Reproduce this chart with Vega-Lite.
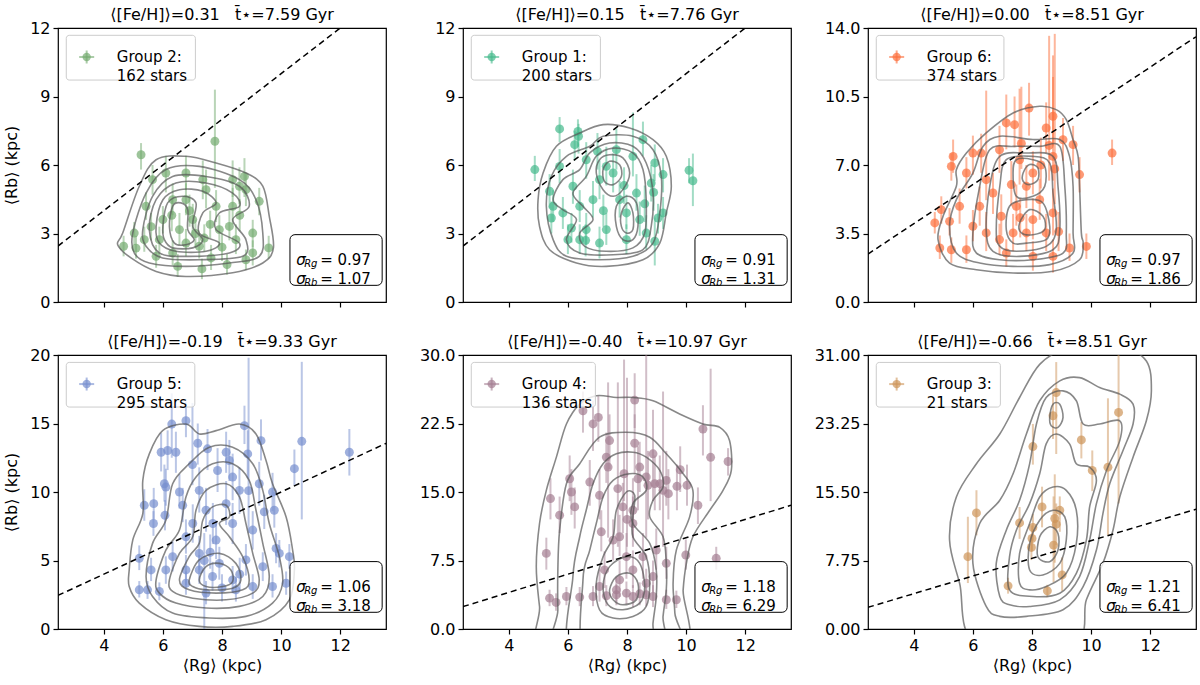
{
"$schema":"https://vega.github.io/schema/vega-lite/v6.json",
"background":"white",
"padding":{"left":3,"top":6,"right":0,"bottom":0},
"columns":3,
"spacing":{"row":53,"column":77},
"bounds":"flush",
"config":{
 "font":"DejaVu Sans",
 "view":{"stroke":"black","strokeWidth":1.2},
 "axis":{"grid":false,"domain":false,"ticks":true,"tickColor":"black","tickSize":5,"tickWidth":1.2,"labelFontSize":16,"labelColor":"black","labelFont":"DejaVu Sans","titleFont":"DejaVu Sans","titleFontSize":16,"titleFontWeight":"normal","titleColor":"black","labelPadding":3},
 "axisY":{"titlePadding":10},
 "axisX":{"titlePadding":4},
 "title":{"fontSize":16,"fontWeight":"normal","font":"DejaVu Sans","color":"black","offset":-3}
},
"datasets":{
"ref":[{"x":2.45,"y":2.45},{"x":13.55,"y":13.55}],
"one":[{}],
"p1":[
{"x":7.76,"y":7.04,"lo":5.0,"hi":9.3},{"x":5.26,"y":6.45,"lo":5.8,"hi":6.96},{"x":4.67,"y":2.44,"lo":2.0,"hi":2.9},{"x":5.09,"y":2.36,"lo":1.9,"hi":2.9},{"x":5.03,"y":3.02,"lo":2.5,"hi":3.5},{"x":5.37,"y":2.73,"lo":2.2,"hi":3.3},{"x":5.43,"y":4.19,"lo":3.6,"hi":4.8},{"x":6.5,"y":1.56,"lo":1.1,"hi":2.1},{"x":7.32,"y":1.45,"lo":1.0,"hi":1.9},{"x":8.17,"y":1.64,"lo":1.2,"hi":2.1},{"x":7.63,"y":1.93,"lo":1.4,"hi":2.5},{"x":8.81,"y":1.85,"lo":1.4,"hi":2.3},{"x":9.58,"y":2.37,"lo":1.9,"hi":2.9},{"x":9.26,"y":4.41,"lo":3.8,"hi":5.0},{"x":8.76,"y":5.5,"lo":4.6,"hi":6.3},{"x":8.81,"y":4.92,"lo":4.2,"hi":5.6},{"x":6.1,"y":5.65,"lo":4.8,"hi":6.4},{"x":5.65,"y":5.36,"lo":4.7,"hi":6.0},{"x":6.33,"y":4.48,"lo":3.8,"hi":5.2},{"x":8.25,"y":3.31,"lo":2.7,"hi":4.0},{"x":7.91,"y":3.17,"lo":2.5,"hi":3.8},{"x":9.04,"y":3.02,"lo":2.4,"hi":3.6},{"x":8.59,"y":5.07,"lo":4.3,"hi":5.9},{"x":6.56,"y":3.17,"lo":2.5,"hi":3.9},{"x":7.01,"y":3.61,"lo":2.9,"hi":4.3},{"x":6.78,"y":2.58,"lo":2.0,"hi":3.2},{"x":7.23,"y":2.44,"lo":1.9,"hi":3.0},{"x":5.77,"y":2.0,"lo":1.5,"hi":2.5},{"x":6.0,"y":3.61,"lo":3.0,"hi":4.2},{"x":7.46,"y":4.92,"lo":4.1,"hi":5.8},{"x":7.8,"y":4.19,"lo":3.5,"hi":4.9},{"x":8.36,"y":4.19,"lo":3.4,"hi":5.0},{"x":8.47,"y":2.73,"lo":2.1,"hi":3.4},{"x":5.88,"y":2.73,"lo":2.1,"hi":3.3},{"x":6.78,"y":5.65,"lo":4.9,"hi":6.4},{"x":7.35,"y":5.36,"lo":4.5,"hi":6.2},{"x":6.33,"y":2.15,"lo":1.6,"hi":2.7},{"x":9.04,"y":2.15,"lo":1.6,"hi":2.7},{"x":6.78,"y":4.48,"lo":3.8,"hi":5.2},{"x":8.36,"y":5.36,"lo":4.6,"hi":6.2},{"x":7.1,"y":3.0,"lo":2.4,"hi":3.6},{"x":6.9,"y":4.0,"lo":3.3,"hi":4.7},{"x":7.6,"y":3.4,"lo":2.8,"hi":4.0},{"x":8.0,"y":2.4,"lo":1.8,"hi":3.0},{"x":6.3,"y":3.8,"lo":3.1,"hi":4.5},{"x":5.6,"y":3.3,"lo":2.7,"hi":3.9},{"x":7.4,"y":2.8,"lo":2.2,"hi":3.4},{"x":8.6,"y":3.8,"lo":3.1,"hi":4.5}
],
"c1":[
{"c":1,"x":4.64,"y":3.02},{"c":1,"x":5.2,"y":5.07},{"c":1,"x":5.77,"y":6.23},{"c":1,"x":6.78,"y":6.38},{"c":1,"x":7.8,"y":6.09},{"c":1,"x":8.81,"y":5.65},{"c":1,"x":9.38,"y":5.07},{"c":1,"x":9.6,"y":3.75},{"c":1,"x":9.74,"y":2.37},{"c":1,"x":9.38,"y":1.71},{"c":1,"x":8.36,"y":1.28},{"c":1,"x":6.78,"y":1.12},{"c":1,"x":5.77,"y":1.34},{"c":1,"x":4.92,"y":1.93},{"c":1,"x":4.47,"y":2.51},
{"c":2,"x":4.98,"y":3.02},{"c":2,"x":5.43,"y":4.77},{"c":2,"x":6.1,"y":5.8},{"c":2,"x":7.23,"y":5.94},{"c":2,"x":8.59,"y":5.36},{"c":2,"x":9.15,"y":4.48},{"c":2,"x":9.38,"y":3.02},{"c":2,"x":9.26,"y":2.0},{"c":2,"x":8.25,"y":1.71},{"c":2,"x":6.78,"y":1.56},{"c":2,"x":5.54,"y":1.71},{"c":2,"x":5.03,"y":2.15},
{"c":3,"x":5.32,"y":3.17},{"c":3,"x":5.65,"y":4.63},{"c":3,"x":6.33,"y":5.5},{"c":3,"x":7.46,"y":5.5},{"c":3,"x":8.59,"y":5.07},{"c":3,"x":8.92,"y":4.19},{"c":3,"x":8.36,"y":3.61},{"c":3,"x":8.81,"y":2.73},{"c":3,"x":8.7,"y":2.0},{"c":3,"x":7.23,"y":1.85},{"c":3,"x":5.99,"y":1.93},{"c":3,"x":5.43,"y":2.44},
{"c":4,"x":5.54,"y":3.17},{"c":4,"x":5.77,"y":4.48},{"c":4,"x":6.44,"y":5.21},{"c":4,"x":7.46,"y":5.21},{"c":4,"x":8.36,"y":4.77},{"c":4,"x":8.59,"y":4.19},{"c":4,"x":7.91,"y":3.9},{"c":4,"x":7.8,"y":3.17},{"c":4,"x":8.59,"y":2.58},{"c":4,"x":8.25,"y":2.15},{"c":4,"x":6.89,"y":2.0},{"c":4,"x":5.88,"y":2.15},
{"c":5,"x":5.77,"y":3.31},{"c":5,"x":6.0,"y":4.48},{"c":5,"x":6.56,"y":4.92},{"c":5,"x":7.35,"y":4.85},{"c":5,"x":7.8,"y":4.34},{"c":5,"x":7.35,"y":3.9},{"c":5,"x":7.23,"y":3.02},{"c":5,"x":7.91,"y":2.58},{"c":5,"x":7.46,"y":2.22},{"c":5,"x":6.44,"y":2.22},{"c":5,"x":5.88,"y":2.58},
{"c":6,"x":6.0,"y":3.31},{"c":6,"x":6.16,"y":4.34},{"c":6,"x":6.67,"y":4.63},{"c":6,"x":7.12,"y":4.34},{"c":6,"x":7.01,"y":3.31},{"c":6,"x":7.35,"y":2.73},{"c":6,"x":7.01,"y":2.37},{"c":6,"x":6.33,"y":2.37},{"c":6,"x":6.05,"y":2.73},
{"c":7,"x":6.22,"y":3.31},{"c":7,"x":6.33,"y":4.19},{"c":7,"x":6.61,"y":4.34},{"c":7,"x":6.84,"y":4.04},{"c":7,"x":6.84,"y":3.17},{"c":7,"x":7.06,"y":2.73},{"c":7,"x":6.78,"y":2.51},{"c":7,"x":6.39,"y":2.58}
],
"p2":[
{"x":4.88,"y":5.8,"lo":5.3,"hi":6.4},{"x":5.72,"y":7.58,"lo":7.0,"hi":8.1},{"x":6.34,"y":7.47,"lo":6.8,"hi":8.0},{"x":6.36,"y":7.26,"lo":6.5,"hi":7.8},{"x":6.23,"y":6.89,"lo":6.2,"hi":7.5},{"x":8.54,"y":7.11,"lo":6.4,"hi":7.9},{"x":8.94,"y":6.09,"lo":5.3,"hi":6.9},{"x":9.22,"y":5.58,"lo":4.8,"hi":6.3},{"x":8.82,"y":5.21,"lo":4.4,"hi":6.0},{"x":10.1,"y":5.77,"lo":5.2,"hi":6.3},{"x":10.23,"y":5.31,"lo":4.2,"hi":6.5},{"x":9.22,"y":3.9,"lo":3.2,"hi":4.6},{"x":9.05,"y":3.68,"lo":3.0,"hi":4.3},{"x":8.94,"y":2.66,"lo":1.6,"hi":3.7},{"x":8.65,"y":3.02,"lo":2.3,"hi":3.8},{"x":5.44,"y":3.68,"lo":3.0,"hi":4.4},{"x":5.38,"y":4.85,"lo":4.1,"hi":5.6},{"x":5.83,"y":3.9,"lo":3.2,"hi":4.6},{"x":6.12,"y":3.24,"lo":2.6,"hi":3.9},{"x":6.0,"y":2.73,"lo":2.1,"hi":3.4},{"x":6.4,"y":2.73,"lo":2.1,"hi":3.4},{"x":7.07,"y":2.58,"lo":1.9,"hi":3.3},{"x":7.98,"y":2.73,"lo":2.1,"hi":3.4},{"x":7.98,"y":3.9,"lo":3.2,"hi":4.7},{"x":7.53,"y":5.65,"lo":4.8,"hi":6.5},{"x":7.3,"y":5.94,"lo":5.1,"hi":6.8},{"x":7.07,"y":5.36,"lo":4.5,"hi":6.2},{"x":6.62,"y":6.23,"lo":5.4,"hi":7.0},{"x":6.85,"y":4.48,"lo":3.7,"hi":5.3},{"x":6.17,"y":5.07,"lo":4.3,"hi":5.8},{"x":5.72,"y":5.94,"lo":5.2,"hi":6.7},{"x":7.64,"y":6.67,"lo":5.8,"hi":7.6},{"x":8.2,"y":6.38,"lo":5.5,"hi":8.3},{"x":8.32,"y":4.77,"lo":4.0,"hi":5.6},{"x":7.75,"y":4.48,"lo":3.7,"hi":5.3},{"x":6.4,"y":4.19,"lo":3.5,"hi":4.9},{"x":7.3,"y":3.17,"lo":2.5,"hi":3.9},{"x":8.43,"y":3.61,"lo":2.9,"hi":4.4},{"x":6.62,"y":3.17,"lo":2.5,"hi":3.9},{"x":5.5,"y":4.19,"lo":3.5,"hi":4.9},{"x":7.2,"y":4.0,"lo":3.3,"hi":4.7},{"x":7.9,"y":5.1,"lo":4.3,"hi":5.9},{"x":6.6,"y":2.7,"lo":2.0,"hi":3.4},{"x":8.6,"y":4.3,"lo":3.5,"hi":5.1},{"x":7.0,"y":6.6,"lo":5.8,"hi":7.4},{"x":8.9,"y":4.8,"lo":4.0,"hi":5.6}
],
"c2":[
{"c":1,"x":4.99,"y":4.48},{"c":1,"x":5.16,"y":5.65},{"c":1,"x":5.61,"y":6.82},{"c":1,"x":6.4,"y":7.4},{"c":1,"x":7.19,"y":7.77},{"c":1,"x":8.09,"y":7.62},{"c":1,"x":8.88,"y":7.11},{"c":1,"x":9.33,"y":6.38},{"c":1,"x":9.5,"y":5.07},{"c":1,"x":9.33,"y":3.9},{"c":1,"x":9.11,"y":2.58},{"c":1,"x":8.54,"y":1.85},{"c":1,"x":7.3,"y":1.56},{"c":1,"x":6.29,"y":1.71},{"c":1,"x":5.38,"y":2.29},{"c":1,"x":5.04,"y":3.31},
{"c":2,"x":5.27,"y":4.19},{"c":2,"x":5.44,"y":5.5},{"c":2,"x":5.95,"y":6.38},{"c":2,"x":6.74,"y":6.82},{"c":2,"x":7.19,"y":7.26},{"c":2,"x":8.2,"y":7.26},{"c":2,"x":8.88,"y":6.67},{"c":2,"x":9.16,"y":5.5},{"c":2,"x":9.11,"y":3.9},{"c":2,"x":8.88,"y":2.58},{"c":2,"x":8.2,"y":2.0},{"c":2,"x":7.07,"y":1.85},{"c":2,"x":5.95,"y":2.0},{"c":2,"x":5.5,"y":2.73},
{"c":3,"x":5.5,"y":4.48},{"c":3,"x":5.83,"y":5.36},{"c":3,"x":6.4,"y":5.8},{"c":3,"x":6.74,"y":6.53},{"c":3,"x":7.41,"y":6.96},{"c":3,"x":8.2,"y":6.82},{"c":3,"x":8.65,"y":6.09},{"c":3,"x":8.88,"y":4.77},{"c":3,"x":8.82,"y":3.31},{"c":3,"x":8.54,"y":2.29},{"c":3,"x":7.53,"y":2.07},{"c":3,"x":6.4,"y":2.15},{"c":3,"x":5.95,"y":2.73},{"c":3,"x":6.29,"y":3.61},{"c":3,"x":5.83,"y":4.04},
{"c":4,"x":6.17,"y":4.77},{"c":4,"x":6.62,"y":5.5},{"c":4,"x":6.96,"y":6.38},{"c":4,"x":7.53,"y":6.74},{"c":4,"x":8.2,"y":6.53},{"c":4,"x":8.54,"y":5.8},{"c":4,"x":8.65,"y":4.48},{"c":4,"x":8.6,"y":3.02},{"c":4,"x":8.2,"y":2.37},{"c":4,"x":7.3,"y":2.22},{"c":4,"x":6.57,"y":2.44},{"c":4,"x":6.4,"y":3.02},{"c":4,"x":6.85,"y":3.61},{"c":4,"x":6.51,"y":4.19},
{"c":5,"x":6.96,"y":5.65},{"c":5,"x":7.07,"y":6.23},{"c":5,"x":7.41,"y":6.45},{"c":5,"x":7.86,"y":6.31},{"c":5,"x":8.09,"y":5.65},{"c":5,"x":7.86,"y":4.92},{"c":5,"x":7.53,"y":4.63},{"c":5,"x":7.19,"y":4.92},
{"c":6,"x":7.64,"y":4.19},{"c":6,"x":7.98,"y":4.63},{"c":6,"x":8.32,"y":4.34},{"c":6,"x":8.37,"y":3.31},{"c":6,"x":8.2,"y":2.73},{"c":6,"x":7.86,"y":2.73},{"c":6,"x":7.64,"y":3.31},
{"c":7,"x":7.19,"y":5.8},{"c":7,"x":7.41,"y":6.16},{"c":7,"x":7.75,"y":6.01},{"c":7,"x":7.81,"y":5.5},{"c":7,"x":7.53,"y":5.14},{"c":7,"x":7.24,"y":5.28},
{"c":8,"x":7.81,"y":3.9},{"c":8,"x":8.03,"y":4.34},{"c":8,"x":8.2,"y":3.9},{"c":8,"x":8.2,"y":3.17},{"c":8,"x":7.98,"y":3.02},{"c":8,"x":7.81,"y":3.31}
],
"p3":[
{"x":10.71,"y":7.61,"lo":7.0,"hi":8.3},{"x":7.9,"y":9.91,"lo":8.5,"hi":11.2},{"x":8.71,"y":9.49,"lo":8.0,"hi":11.5},{"x":8.48,"y":8.89,"lo":7.6,"hi":10.2},{"x":7.13,"y":9.15,"lo":7.8,"hi":10.6},{"x":7.41,"y":9.06,"lo":7.9,"hi":10.5},{"x":5.33,"y":7.44,"lo":6.6,"hi":8.3},{"x":5.27,"y":6.93,"lo":6.2,"hi":7.6},{"x":5.78,"y":6.59,"lo":5.8,"hi":7.4},{"x":6.0,"y":7.61,"lo":6.5,"hi":8.5},{"x":6.28,"y":7.61,"lo":6.6,"hi":8.6},{"x":4.71,"y":4.04,"lo":3.5,"hi":4.6},{"x":4.93,"y":4.72,"lo":4.0,"hi":5.4},{"x":5.21,"y":4.12,"lo":3.4,"hi":4.8},{"x":4.88,"y":2.76,"lo":2.2,"hi":3.4},{"x":5.27,"y":2.67,"lo":2.0,"hi":3.3},{"x":5.78,"y":2.67,"lo":2.0,"hi":3.4},{"x":6.45,"y":3.53,"lo":2.6,"hi":4.6},{"x":6.96,"y":4.38,"lo":3.4,"hi":5.5},{"x":7.36,"y":3.53,"lo":2.6,"hi":4.5},{"x":8.03,"y":4.21,"lo":3.2,"hi":5.3},{"x":8.71,"y":4.55,"lo":3.4,"hi":5.8},{"x":9.27,"y":2.76,"lo":2.1,"hi":3.5},{"x":9.84,"y":2.84,"lo":2.2,"hi":3.5},{"x":9.61,"y":6.51,"lo":5.6,"hi":7.4},{"x":9.39,"y":8.04,"lo":7.0,"hi":9.0},{"x":9.05,"y":8.29,"lo":7.2,"hi":9.4},{"x":8.03,"y":6.59,"lo":5.5,"hi":7.7},{"x":7.81,"y":5.91,"lo":4.8,"hi":7.0},{"x":6.68,"y":5.57,"lo":4.5,"hi":6.6},{"x":6.23,"y":4.89,"lo":3.9,"hi":5.9},{"x":7.13,"y":2.5,"lo":1.8,"hi":3.2},{"x":8.03,"y":2.33,"lo":1.6,"hi":3.1},{"x":8.71,"y":2.33,"lo":1.5,"hi":3.2},{"x":7.47,"y":4.89,"lo":3.9,"hi":6.0},{"x":8.26,"y":5.23,"lo":4.2,"hi":6.3},{"x":7.58,"y":7.27,"lo":6.0,"hi":10.9},{"x":6.9,"y":7.78,"lo":6.6,"hi":9.0},{"x":8.71,"y":7.44,"lo":6.2,"hi":12.6},{"x":6.45,"y":6.25,"lo":5.2,"hi":10.8},{"x":5.55,"y":4.89,"lo":4.0,"hi":5.8},{"x":6.0,"y":3.87,"lo":3.1,"hi":4.7},{"x":6.9,"y":3.19,"lo":2.4,"hi":4.0},{"x":7.81,"y":3.53,"lo":2.6,"hi":4.5},{"x":8.48,"y":3.53,"lo":2.6,"hi":4.5},{"x":8.58,"y":8.0,"lo":6.2,"hi":13.6},{"x":8.77,"y":6.8,"lo":5.0,"hi":13.7},{"x":7.64,"y":8.1,"lo":6.8,"hi":11.0},{"x":7.3,"y":6.0,"lo":4.9,"hi":7.2},{"x":8.3,"y":7.0,"lo":5.8,"hi":8.4},{"x":7.6,"y":4.3,"lo":3.3,"hi":5.3},{"x":8.9,"y":3.6,"lo":2.6,"hi":4.6}
],
"c3":[
{"c":1,"x":4.82,"y":3.19},{"c":1,"x":4.99,"y":4.38},{"c":1,"x":5.44,"y":5.91},{"c":1,"x":5.44,"y":6.76},{"c":1,"x":5.78,"y":7.61},{"c":1,"x":6.45,"y":8.64},{"c":1,"x":7.36,"y":9.66},{"c":1,"x":8.26,"y":10.0},{"c":1,"x":8.82,"y":9.83},{"c":1,"x":9.16,"y":9.32},{"c":1,"x":9.39,"y":8.29},{"c":1,"x":9.56,"y":7.44},{"c":1,"x":9.61,"y":5.91},{"c":1,"x":9.67,"y":3.53},{"c":1,"x":9.73,"y":3.01},{"c":1,"x":9.61,"y":2.16},{"c":1,"x":8.71,"y":1.57},{"c":1,"x":7.36,"y":1.48},{"c":1,"x":6.12,"y":1.65},{"c":1,"x":5.21,"y":1.99},
{"c":2,"x":5.21,"y":3.87},{"c":2,"x":5.44,"y":5.23},{"c":2,"x":6.0,"y":6.59},{"c":2,"x":6.34,"y":7.95},{"c":2,"x":6.91,"y":8.47},{"c":2,"x":8.03,"y":8.3},{"c":2,"x":8.94,"y":8.3},{"c":2,"x":9.27,"y":7.44},{"c":2,"x":9.39,"y":5.91},{"c":2,"x":9.39,"y":3.53},{"c":2,"x":9.39,"y":2.5},{"c":2,"x":8.6,"y":1.91},{"c":2,"x":7.36,"y":1.82},{"c":2,"x":6.23,"y":1.99},{"c":2,"x":5.44,"y":2.5},
{"c":3,"x":6.0,"y":3.53},{"c":3,"x":6.23,"y":5.91},{"c":3,"x":6.57,"y":7.78},{"c":3,"x":7.36,"y":7.95},{"c":3,"x":8.26,"y":7.95},{"c":3,"x":8.94,"y":7.95},{"c":3,"x":9.11,"y":5.91},{"c":3,"x":9.16,"y":3.53},{"c":3,"x":9.05,"y":2.5},{"c":3,"x":8.03,"y":2.16},{"c":3,"x":6.91,"y":2.16},{"c":3,"x":6.12,"y":2.5},
{"c":4,"x":6.45,"y":3.7},{"c":4,"x":6.57,"y":5.91},{"c":4,"x":6.91,"y":7.44},{"c":4,"x":7.81,"y":7.61},{"c":4,"x":8.71,"y":7.44},{"c":4,"x":8.88,"y":5.91},{"c":4,"x":8.94,"y":3.7},{"c":4,"x":8.71,"y":2.67},{"c":4,"x":7.58,"y":2.33},{"c":4,"x":6.68,"y":2.59},
{"c":5,"x":6.79,"y":3.7},{"c":5,"x":6.91,"y":5.91},{"c":5,"x":7.13,"y":7.27},{"c":5,"x":8.03,"y":7.44},{"c":5,"x":8.6,"y":7.1},{"c":5,"x":8.71,"y":5.57},{"c":5,"x":8.82,"y":3.7},{"c":5,"x":8.48,"y":2.84},{"c":5,"x":7.47,"y":2.59},{"c":5,"x":6.91,"y":2.84},
{"c":6,"x":7.36,"y":6.59},{"c":6,"x":7.47,"y":7.27},{"c":6,"x":8.03,"y":7.27},{"c":6,"x":8.43,"y":6.93},{"c":6,"x":8.43,"y":5.91},{"c":6,"x":8.03,"y":5.4},{"c":6,"x":7.47,"y":5.4},
{"c":7,"x":7.13,"y":3.7},{"c":7,"x":7.24,"y":4.89},{"c":7,"x":7.81,"y":5.23},{"c":7,"x":8.37,"y":5.06},{"c":7,"x":8.6,"y":3.87},{"c":7,"x":8.48,"y":3.19},{"c":7,"x":7.81,"y":3.01},{"c":7,"x":7.36,"y":3.01},
{"c":8,"x":7.58,"y":4.04},{"c":8,"x":7.92,"y":4.72},{"c":8,"x":8.37,"y":4.38},{"c":8,"x":8.43,"y":3.7},{"c":8,"x":8.03,"y":3.44},{"c":8,"x":7.64,"y":3.53},
{"c":9,"x":7.7,"y":6.59},{"c":9,"x":7.92,"y":7.02},{"c":9,"x":8.2,"y":6.85},{"c":9,"x":8.2,"y":6.25},{"c":9,"x":7.92,"y":6.0},{"c":9,"x":7.7,"y":6.17}
],
"p4":[
{"x":12.31,"y":12.9,"lo":11.2,"hi":14.6},{"x":10.7,"y":13.7,"lo":8.0,"hi":19.5},{"x":10.45,"y":11.7,"lo":10.5,"hi":13.1},{"x":8.76,"y":14.84,"lo":13.5,"hi":16.3},{"x":9.32,"y":13.75,"lo":12.3,"hi":15.3},{"x":6.78,"y":15.2,"lo":14.0,"hi":16.6},{"x":6.3,"y":14.96,"lo":12.5,"hi":17.2},{"x":7.18,"y":13.56,"lo":12.0,"hi":15.0},{"x":7.51,"y":13.15,"lo":11.6,"hi":14.6},{"x":5.94,"y":12.9,"lo":11.5,"hi":14.3},{"x":6.16,"y":13.03,"lo":11.6,"hi":14.5},{"x":6.44,"y":12.9,"lo":11.4,"hi":14.4},{"x":6.05,"y":10.6,"lo":9.3,"hi":12.0},{"x":6.1,"y":10.36,"lo":9.0,"hi":11.7},{"x":5.37,"y":9.03,"lo":7.9,"hi":10.2},{"x":5.69,"y":9.15,"lo":8.0,"hi":10.3},{"x":6.07,"y":8.3,"lo":7.2,"hi":9.4},{"x":5.68,"y":7.7,"lo":6.8,"hi":8.6},{"x":6.56,"y":10.0,"lo":8.8,"hi":11.3},{"x":6.67,"y":9.03,"lo":7.8,"hi":10.3},{"x":7.85,"y":11.57,"lo":10.0,"hi":13.2},{"x":8.14,"y":12.9,"lo":11.4,"hi":14.4},{"x":8.25,"y":12.3,"lo":10.8,"hi":13.8},{"x":8.87,"y":12.78,"lo":11.0,"hi":14.5},{"x":9.71,"y":10.0,"lo":8.6,"hi":11.4},{"x":9.77,"y":8.67,"lo":7.4,"hi":10.0},{"x":9.43,"y":8.55,"lo":7.3,"hi":9.8},{"x":9.83,"y":5.88,"lo":4.8,"hi":7.0},{"x":10.28,"y":5.28,"lo":4.4,"hi":6.2},{"x":9.94,"y":5.52,"lo":4.5,"hi":6.5},{"x":5.2,"y":5.16,"lo":4.3,"hi":6.1},{"x":5.6,"y":4.31,"lo":3.5,"hi":5.2},{"x":5.2,"y":2.86,"lo":2.3,"hi":3.5},{"x":5.48,"y":2.86,"lo":2.2,"hi":3.5},{"x":5.88,"y":2.74,"lo":2.1,"hi":3.4},{"x":6.78,"y":3.34,"lo":2.5,"hi":4.2},{"x":7.23,"y":4.31,"lo":3.3,"hi":5.4},{"x":7.68,"y":3.83,"lo":2.8,"hi":4.9},{"x":8.36,"y":3.58,"lo":2.6,"hi":4.6},{"x":9.04,"y":3.1,"lo":2.2,"hi":4.0},{"x":9.71,"y":3.1,"lo":2.3,"hi":4.0},{"x":10.17,"y":3.34,"lo":2.5,"hi":4.2},{"x":7.23,"y":5.52,"lo":4.3,"hi":6.8},{"x":7.8,"y":6.49,"lo":5.1,"hi":7.9},{"x":8.36,"y":7.7,"lo":6.2,"hi":9.2},{"x":9.04,"y":7.22,"lo":5.8,"hi":8.6},{"x":6.78,"y":6.73,"lo":5.5,"hi":8.0},{"x":7.46,"y":8.67,"lo":7.1,"hi":10.3},{"x":7.23,"y":10.12,"lo":8.5,"hi":11.8},{"x":8.59,"y":10.12,"lo":8.4,"hi":11.8},{"x":8.36,"y":11.09,"lo":9.4,"hi":12.8},{"x":9.26,"y":10.6,"lo":9.0,"hi":12.2},{"x":6.33,"y":5.28,"lo":4.2,"hi":6.4},{"x":6.1,"y":4.31,"lo":3.3,"hi":5.3},{"x":7.91,"y":4.79,"lo":3.6,"hi":6.0},{"x":8.81,"y":5.04,"lo":3.9,"hi":6.2},{"x":6.78,"y":4.31,"lo":3.2,"hi":5.4},{"x":8.47,"y":2.86,"lo":2.0,"hi":3.8},{"x":7.46,"y":2.62,"lo":1.8,"hi":3.5},{"x":9.38,"y":4.55,"lo":3.5,"hi":5.6},{"x":7.01,"y":7.7,"lo":6.3,"hi":9.1},{"x":7.69,"y":7.7,"lo":6.2,"hi":9.2},{"x":8.14,"y":9.15,"lo":7.6,"hi":10.8},{"x":8.9,"y":10.1,"lo":7.0,"hi":19.8},{"x":7.4,"y":5.0,"lo":0.0,"hi":7.0},{"x":7.0,"y":12.0,"lo":10.5,"hi":16.5},{"x":8.0,"y":3.0,"lo":2.0,"hi":4.0},{"x":8.6,"y":4.0,"lo":2.8,"hi":5.2},{"x":7.6,"y":5.6,"lo":4.4,"hi":6.9}
],
"c4":[
{"c":1,"x":4.86,"y":4.31},{"c":1,"x":4.98,"y":6.49},{"c":1,"x":5.32,"y":8.43},{"c":1,"x":5.32,"y":10.85},{"c":1,"x":5.54,"y":12.78},{"c":1,"x":5.99,"y":14.48},{"c":1,"x":6.78,"y":14.96},{"c":1,"x":7.23,"y":14.24},{"c":1,"x":7.8,"y":14.48},{"c":1,"x":8.59,"y":14.96},{"c":1,"x":9.15,"y":14.24},{"c":1,"x":9.49,"y":12.3},{"c":1,"x":9.71,"y":10.6},{"c":1,"x":10.17,"y":8.18},{"c":1,"x":10.39,"y":5.76},{"c":1,"x":10.45,"y":4.31},{"c":1,"x":10.28,"y":2.13},{"c":1,"x":9.49,"y":0.68},{"c":1,"x":8.36,"y":0.19},{"c":1,"x":7.23,"y":0.19},{"c":1,"x":6.1,"y":0.68},{"c":1,"x":5.2,"y":1.89},{"c":1,"x":4.86,"y":3.1},
{"c":2,"x":5.43,"y":3.83},{"c":2,"x":5.65,"y":6.25},{"c":2,"x":6.1,"y":7.94},{"c":2,"x":6.33,"y":10.6},{"c":2,"x":6.89,"y":12.06},{"c":2,"x":7.57,"y":13.27},{"c":2,"x":8.36,"y":13.27},{"c":2,"x":9.04,"y":12.06},{"c":2,"x":9.38,"y":10.12},{"c":2,"x":9.6,"y":7.7},{"c":2,"x":9.94,"y":5.28},{"c":2,"x":10.05,"y":3.34},{"c":2,"x":9.71,"y":1.89},{"c":2,"x":8.81,"y":0.92},{"c":2,"x":7.57,"y":0.8},{"c":2,"x":6.33,"y":1.16},{"c":2,"x":5.65,"y":2.37},
{"c":3,"x":5.77,"y":3.58},{"c":3,"x":6.1,"y":5.76},{"c":3,"x":6.56,"y":7.22},{"c":3,"x":6.78,"y":9.64},{"c":3,"x":7.12,"y":11.09},{"c":3,"x":7.68,"y":12.06},{"c":3,"x":8.36,"y":12.06},{"c":3,"x":8.92,"y":10.85},{"c":3,"x":9.15,"y":8.67},{"c":3,"x":9.38,"y":6.25},{"c":3,"x":9.6,"y":3.83},{"c":3,"x":9.38,"y":2.37},{"c":3,"x":8.59,"y":1.65},{"c":3,"x":7.46,"y":1.53},{"c":3,"x":6.44,"y":1.89},{"c":3,"x":5.88,"y":2.62},
{"c":4,"x":6.22,"y":3.58},{"c":4,"x":6.56,"y":5.52},{"c":4,"x":7.01,"y":6.73},{"c":4,"x":7.12,"y":8.67},{"c":4,"x":7.46,"y":10.12},{"c":4,"x":8.14,"y":10.6},{"c":4,"x":8.59,"y":9.64},{"c":4,"x":8.81,"y":7.7},{"c":4,"x":9.04,"y":5.52},{"c":4,"x":9.26,"y":3.58},{"c":4,"x":9.04,"y":2.62},{"c":4,"x":8.14,"y":2.13},{"c":4,"x":7.01,"y":2.25},{"c":4,"x":6.33,"y":2.74},
{"c":5,"x":6.56,"y":3.58},{"c":5,"x":6.89,"y":5.28},{"c":5,"x":7.23,"y":6.25},{"c":5,"x":7.35,"y":7.94},{"c":5,"x":7.68,"y":8.91},{"c":5,"x":8.14,"y":9.03},{"c":5,"x":8.25,"y":8.18},{"c":5,"x":7.91,"y":7.7},{"c":5,"x":8.25,"y":6.73},{"c":5,"x":8.7,"y":5.28},{"c":5,"x":8.92,"y":3.58},{"c":5,"x":8.7,"y":2.86},{"c":5,"x":7.8,"y":2.62},{"c":5,"x":6.89,"y":2.86},
{"c":6,"x":6.89,"y":3.58},{"c":6,"x":7.23,"y":5.04},{"c":6,"x":7.91,"y":5.52},{"c":6,"x":8.47,"y":4.79},{"c":6,"x":8.64,"y":3.58},{"c":6,"x":8.36,"y":2.98},{"c":6,"x":7.46,"y":2.86},{"c":6,"x":7.01,"y":3.1},
{"c":7,"x":7.23,"y":3.58},{"c":7,"x":7.46,"y":4.55},{"c":7,"x":7.91,"y":4.79},{"c":7,"x":8.3,"y":4.31},{"c":7,"x":8.36,"y":3.46},{"c":7,"x":8.02,"y":3.1},{"c":7,"x":7.46,"y":3.1}
],
"p5":[
{"x":11.42,"y":18.34,"lo":16.8,"hi":19.8},{"x":10.57,"y":21.9,"lo":19.0,"hi":24.5},{"x":10.83,"y":18.8,"lo":14.0,"hi":28.5},{"x":11.02,"y":7.74,"lo":6.5,"hi":9.0},{"x":9.99,"y":8.1,"lo":6.5,"hi":9.8},{"x":10.4,"y":13.55,"lo":11.5,"hi":15.5},{"x":10.03,"y":15.73,"lo":13.5,"hi":18.0},{"x":9.8,"y":17.44,"lo":15.0,"hi":20.0},{"x":9.69,"y":15.62,"lo":13.0,"hi":18.0},{"x":9.33,"y":16.27,"lo":13.5,"hi":19.5},{"x":8.88,"y":19.18,"lo":14.0,"hi":24.0},{"x":8.26,"y":25.06,"lo":22.0,"hi":28.0},{"x":8.26,"y":20.34,"lo":17.0,"hi":23.5},{"x":8.43,"y":17.73,"lo":15.0,"hi":20.5},{"x":8.37,"y":16.45,"lo":13.0,"hi":20.0},{"x":8.65,"y":16.64,"lo":10.0,"hi":30.0},{"x":8.71,"y":15.73,"lo":12.0,"hi":19.5},{"x":8.94,"y":15.91,"lo":13.0,"hi":19.0},{"x":9.22,"y":15.18,"lo":9.0,"hi":26.0},{"x":9.4,"y":14.82,"lo":12.0,"hi":17.5},{"x":9.11,"y":15.91,"lo":13.0,"hi":19.0},{"x":7.41,"y":20.63,"lo":17.5,"hi":23.5},{"x":7.3,"y":18.82,"lo":16.0,"hi":21.5},{"x":7.36,"y":17.73,"lo":10.0,"hi":27.0},{"x":7.03,"y":23.17,"lo":20.5,"hi":25.5},{"x":6.51,"y":23.9,"lo":21.5,"hi":26.0},{"x":6.85,"y":22.45,"lo":19.5,"hi":25.0},{"x":6.06,"y":16.45,"lo":14.0,"hi":19.0},{"x":6.12,"y":15.0,"lo":12.5,"hi":17.5},{"x":6.23,"y":13.37,"lo":11.0,"hi":15.5},{"x":5.41,"y":14.28,"lo":12.0,"hi":16.5},{"x":5.72,"y":12.46,"lo":10.5,"hi":14.5},{"x":5.27,"y":8.28,"lo":6.5,"hi":10.0},{"x":6.74,"y":16.09,"lo":13.5,"hi":18.5},{"x":7.07,"y":14.64,"lo":12.0,"hi":17.5},{"x":7.69,"y":15.37,"lo":9.0,"hi":27.0},{"x":7.86,"y":13.37,"lo":10.5,"hi":16.0},{"x":8.2,"y":13.0,"lo":10.0,"hi":16.5},{"x":7.13,"y":10.64,"lo":8.5,"hi":13.0},{"x":7.53,"y":9.73,"lo":7.5,"hi":12.0},{"x":7.75,"y":10.1,"lo":8.0,"hi":12.5},{"x":8.2,"y":11.55,"lo":9.0,"hi":14.5},{"x":7.24,"y":6.47,"lo":4.5,"hi":8.5},{"x":7.75,"y":5.38,"lo":3.5,"hi":7.5},{"x":7.07,"y":4.65,"lo":3.0,"hi":6.5},{"x":5.38,"y":3.38,"lo":2.5,"hi":4.3},{"x":5.6,"y":2.91,"lo":2.0,"hi":3.9},{"x":5.95,"y":3.56,"lo":2.6,"hi":4.6},{"x":6.4,"y":3.49,"lo":2.5,"hi":4.6},{"x":6.85,"y":3.56,"lo":2.5,"hi":4.7},{"x":7.3,"y":3.63,"lo":2.5,"hi":4.8},{"x":7.64,"y":3.74,"lo":2.6,"hi":4.9},{"x":7.98,"y":3.92,"lo":2.7,"hi":5.2},{"x":8.2,"y":3.56,"lo":2.4,"hi":4.8},{"x":8.43,"y":3.85,"lo":2.6,"hi":5.1},{"x":8.65,"y":3.74,"lo":2.5,"hi":5.0},{"x":8.88,"y":3.56,"lo":2.4,"hi":4.8},{"x":9.33,"y":3.2,"lo":2.2,"hi":4.3},{"x":9.67,"y":3.2,"lo":2.3,"hi":4.2},{"x":8.2,"y":6.47,"lo":4.5,"hi":8.6},{"x":8.54,"y":7.92,"lo":5.5,"hi":10.5},{"x":8.99,"y":8.64,"lo":6.5,"hi":11.0},{"x":7.98,"y":7.92,"lo":5.5,"hi":10.5},{"x":9.33,"y":7.19,"lo":5.5,"hi":9.0},{"x":8.88,"y":5.74,"lo":4.0,"hi":7.5},{"x":7.64,"y":4.29,"lo":3.0,"hi":5.7},{"x":8.65,"y":5.01,"lo":3.5,"hi":6.6},{"x":7.9,"y":17.0,"lo":14.0,"hi":29.5},{"x":8.0,"y":12.0,"lo":9.0,"hi":27.5}
],
"c5":[
{"c":1,"x":4.93,"y":6.83},{"c":1,"x":5.04,"y":11.55},{"c":1,"x":5.27,"y":15.18},{"c":1,"x":5.61,"y":18.82},{"c":1,"x":5.95,"y":22.45},{"c":1,"x":6.4,"y":24.63},{"c":1,"x":6.96,"y":25.54},{"c":1,"x":7.64,"y":25.35},{"c":1,"x":8.2,"y":25.35},{"c":1,"x":8.88,"y":24.99},{"c":1,"x":9.78,"y":23.54},{"c":1,"x":10.57,"y":22.45},{"c":1,"x":11.14,"y":22.08},{"c":1,"x":11.47,"y":20.63},{"c":1,"x":11.53,"y":17.36},{"c":1,"x":11.25,"y":15.18},{"c":1,"x":10.8,"y":13.0},{"c":1,"x":10.23,"y":10.1},{"c":1,"x":10.01,"y":7.19},{"c":1,"x":9.9,"y":4.29},{"c":1,"x":9.78,"y":-2.98},{"c":1,"x":5.27,"y":-2.98},{"c":1,"x":5.04,"y":2.47},
{"c":2,"x":5.66,"y":6.47},{"c":2,"x":5.72,"y":10.82},{"c":2,"x":5.95,"y":15.91},{"c":2,"x":6.4,"y":18.09},{"c":2,"x":7.07,"y":21.0},{"c":2,"x":7.98,"y":21.54},{"c":2,"x":8.77,"y":21.0},{"c":2,"x":9.33,"y":19.18},{"c":2,"x":9.9,"y":17.0},{"c":2,"x":10.23,"y":15.18},{"c":2,"x":10.12,"y":12.28},{"c":2,"x":9.67,"y":8.64},{"c":2,"x":9.56,"y":5.01},{"c":2,"x":9.62,"y":1.74},{"c":2,"x":9.67,"y":-2.98},{"c":2,"x":5.72,"y":-2.98},{"c":2,"x":5.66,"y":2.11},
{"c":3,"x":6.17,"y":5.74},{"c":3,"x":6.4,"y":10.1},{"c":3,"x":6.62,"y":13.0},{"c":3,"x":6.85,"y":15.91},{"c":3,"x":7.19,"y":18.09},{"c":3,"x":7.64,"y":19.18},{"c":3,"x":8.2,"y":19.36},{"c":3,"x":8.65,"y":18.82},{"c":3,"x":9.11,"y":17.36},{"c":3,"x":9.22,"y":15.55},{"c":3,"x":8.88,"y":14.09},{"c":3,"x":8.77,"y":12.28},{"c":3,"x":9.22,"y":10.1},{"c":3,"x":9.33,"y":7.19},{"c":3,"x":9.33,"y":4.29},{"c":3,"x":9.22,"y":1.38},{"c":3,"x":9.11,"y":-2.98},{"c":3,"x":6.17,"y":-2.98},
{"c":4,"x":6.51,"y":5.38},{"c":4,"x":6.74,"y":8.64},{"c":4,"x":6.96,"y":11.55},{"c":4,"x":7.19,"y":14.46},{"c":4,"x":7.53,"y":16.27},{"c":4,"x":8.09,"y":17.0},{"c":4,"x":8.54,"y":16.64},{"c":4,"x":8.65,"y":15.18},{"c":4,"x":8.2,"y":13.73},{"c":4,"x":8.2,"y":11.55},{"c":4,"x":8.77,"y":9.37},{"c":4,"x":8.99,"y":6.47},{"c":4,"x":8.99,"y":3.56},{"c":4,"x":8.88,"y":0.65},{"c":4,"x":8.77,"y":-2.98},{"c":4,"x":6.62,"y":-2.98},
{"c":5,"x":6.96,"y":5.01},{"c":5,"x":7.19,"y":7.92},{"c":5,"x":7.53,"y":10.1},{"c":5,"x":7.64,"y":13.0},{"c":5,"x":7.98,"y":15.0},{"c":5,"x":8.26,"y":14.64},{"c":5,"x":8.2,"y":12.28},{"c":5,"x":8.2,"y":10.1},{"c":5,"x":8.65,"y":7.92},{"c":5,"x":8.77,"y":5.01},{"c":5,"x":8.65,"y":2.47},{"c":5,"x":8.2,"y":1.38},{"c":5,"x":7.53,"y":1.2},{"c":5,"x":7.07,"y":2.11},
{"c":6,"x":7.19,"y":4.65},{"c":6,"x":7.41,"y":6.83},{"c":6,"x":7.98,"y":7.92},{"c":6,"x":8.43,"y":7.19},{"c":6,"x":8.6,"y":4.65},{"c":6,"x":8.43,"y":2.83},{"c":6,"x":7.86,"y":2.11},{"c":6,"x":7.36,"y":2.65},
{"c":7,"x":7.41,"y":4.29},{"c":7,"x":7.64,"y":5.74},{"c":7,"x":8.09,"y":6.1},{"c":7,"x":8.37,"y":5.01},{"c":7,"x":8.32,"y":3.2},{"c":7,"x":7.86,"y":2.65},{"c":7,"x":7.53,"y":3.2}
],
"p6":[
{"x":5.83,"y":8.18,"lo":5.2,"hi":12.7},{"x":6.12,"y":13.13,"lo":10.6,"hi":15.7},{"x":7.19,"y":4.88,"lo":4.0,"hi":5.8},{"x":7.58,"y":12.0,"lo":10.2,"hi":13.8},{"x":8.03,"y":20.64,"lo":18.6,"hi":23.2},{"x":8.03,"y":11.48,"lo":10.0,"hi":13.0},{"x":8.0,"y":10.24,"lo":8.8,"hi":11.7},{"x":7.98,"y":9.23,"lo":7.8,"hi":10.6},{"x":8.34,"y":13.81,"lo":11.5,"hi":16.1},{"x":8.71,"y":24.13,"lo":21.5,"hi":26.5},{"x":8.82,"y":26.75,"lo":19.8,"hi":30.2},{"x":8.77,"y":12.5,"lo":7.5,"hi":17.5},{"x":8.82,"y":11.86,"lo":9.5,"hi":14.2},{"x":8.94,"y":13.43,"lo":11.0,"hi":15.0},{"x":8.73,"y":9.49,"lo":5.3,"hi":15.0},{"x":8.52,"y":4.32,"lo":3.6,"hi":5.0},{"x":9.02,"y":6.12,"lo":4.3,"hi":8.1},{"x":9.67,"y":21.39,"lo":19.3,"hi":23.4},{"x":10.04,"y":17.94,"lo":15.6,"hi":20.2},{"x":10.57,"y":18.31,"lo":10.6,"hi":26.1},{"x":10.93,"y":24.5,"lo":14.2,"hi":31.3}
],
"c6":[
{"c":1,"x":6.12,"y":-1.58},{"c":1,"x":5.55,"y":5.18},{"c":1,"x":5.21,"y":10.06},{"c":1,"x":5.44,"y":14.93},{"c":1,"x":6.12,"y":18.69},{"c":1,"x":6.91,"y":22.06},{"c":1,"x":7.58,"y":26.19},{"c":1,"x":8.26,"y":29.94},{"c":1,"x":9.16,"y":31.82},{"c":1,"x":10.06,"y":32.2},{"c":1,"x":10.97,"y":32.2},{"c":1,"x":11.87,"y":30.32},{"c":1,"x":12.04,"y":26.94},{"c":1,"x":11.87,"y":23.56},{"c":1,"x":11.42,"y":19.44},{"c":1,"x":10.97,"y":14.93},{"c":1,"x":10.74,"y":11.18},{"c":1,"x":10.4,"y":7.43},{"c":1,"x":9.84,"y":3.3},{"c":1,"x":9.39,"y":-1.58},
{"c":2,"x":6.45,"y":2.55},{"c":2,"x":6.0,"y":7.43},{"c":2,"x":6.23,"y":11.93},{"c":2,"x":6.91,"y":14.56},{"c":2,"x":7.36,"y":17.56},{"c":2,"x":7.81,"y":22.06},{"c":2,"x":8.26,"y":25.82},{"c":2,"x":8.94,"y":28.07},{"c":2,"x":9.61,"y":28.44},{"c":2,"x":10.29,"y":27.32},{"c":2,"x":10.97,"y":26.57},{"c":2,"x":11.42,"y":25.44},{"c":2,"x":11.42,"y":23.19},{"c":2,"x":11.08,"y":20.19},{"c":2,"x":10.63,"y":16.44},{"c":2,"x":10.4,"y":13.06},{"c":2,"x":10.18,"y":8.93},{"c":2,"x":9.73,"y":4.8},{"c":2,"x":9.05,"y":2.18},{"c":2,"x":7.81,"y":1.43},{"c":2,"x":6.91,"y":1.43},
{"c":3,"x":6.91,"y":3.68},{"c":3,"x":6.79,"y":7.43},{"c":3,"x":7.13,"y":11.18},{"c":3,"x":7.58,"y":14.56},{"c":3,"x":7.92,"y":18.69},{"c":3,"x":8.15,"y":23.19},{"c":3,"x":8.48,"y":26.19},{"c":3,"x":9.05,"y":26.94},{"c":3,"x":9.5,"y":25.82},{"c":3,"x":9.73,"y":23.19},{"c":3,"x":10.29,"y":23.19},{"c":3,"x":10.97,"y":23.56},{"c":3,"x":10.97,"y":21.31},{"c":3,"x":10.52,"y":17.94},{"c":3,"x":10.18,"y":14.18},{"c":3,"x":9.95,"y":10.06},{"c":3,"x":9.61,"y":5.93},{"c":3,"x":8.94,"y":3.3},{"c":3,"x":7.92,"y":2.55},{"c":3,"x":7.24,"y":2.74},
{"c":4,"x":7.24,"y":4.43},{"c":4,"x":7.24,"y":8.18},{"c":4,"x":7.47,"y":11.18},{"c":4,"x":7.92,"y":14.18},{"c":4,"x":8.26,"y":17.56},{"c":4,"x":8.48,"y":20.94},{"c":4,"x":8.82,"y":22.06},{"c":4,"x":9.27,"y":20.94},{"c":4,"x":9.5,"y":18.69},{"c":4,"x":9.95,"y":18.31},{"c":4,"x":10.18,"y":16.81},{"c":4,"x":9.95,"y":13.81},{"c":4,"x":9.84,"y":10.06},{"c":4,"x":9.5,"y":6.3},{"c":4,"x":8.94,"y":4.05},{"c":4,"x":8.03,"y":3.68},
{"c":5,"x":8.6,"y":23.94},{"c":5,"x":8.71,"y":25.44},{"c":5,"x":8.94,"y":25.44},{"c":5,"x":9.05,"y":23.94},{"c":5,"x":8.88,"y":22.81},{"c":5,"x":8.65,"y":23.0},
{"c":6,"x":7.58,"y":5.18},{"c":6,"x":7.58,"y":8.56},{"c":6,"x":7.92,"y":11.93},{"c":6,"x":8.26,"y":14.93},{"c":6,"x":8.71,"y":16.06},{"c":6,"x":9.16,"y":15.68},{"c":6,"x":9.5,"y":13.43},{"c":6,"x":9.5,"y":9.68},{"c":6,"x":9.16,"y":6.3},{"c":6,"x":8.48,"y":4.8},{"c":6,"x":7.92,"y":4.43},
{"c":7,"x":7.92,"y":6.68},{"c":7,"x":7.92,"y":9.68},{"c":7,"x":8.26,"y":12.31},{"c":7,"x":8.71,"y":13.43},{"c":7,"x":9.11,"y":12.68},{"c":7,"x":9.16,"y":10.06},{"c":7,"x":8.94,"y":7.43},{"c":7,"x":8.37,"y":6.12},
{"c":8,"x":8.2,"y":8.18},{"c":8,"x":8.26,"y":10.43},{"c":8,"x":8.6,"y":11.56},{"c":8,"x":8.88,"y":10.81},{"c":8,"x":8.88,"y":8.93},{"c":8,"x":8.6,"y":7.62}
]
},
"concat":[
{"width":328,"height":274,"title":"⟨[Fe/H]⟩=0.31\u00a0\u00a0\u00a0t̄⋆=7.59 Gyr","resolve":{"axis":{"x":"independent","y":"independent"}},"layer":[
 {"data":{"name":"p1"},"mark":{"type":"rule","strokeWidth":2,"opacity":0.5,"color":"#74ab6f","clip":true},"encoding":{"x":{"field":"x","type":"quantitative","scale":{"domain":[2.45,13.55],"nice":false,"zero":false},"axis":{"values":[4,6,8,10,12],"labels":false,"title":null}},"y":{"field":"lo","type":"quantitative","scale":{"domain":[0,12],"nice":false,"zero":false},"axis":{"values":[0,3,6,9,12],"title":"⟨Rb⟩ (kpc)"}},"y2":{"field":"hi"}}},
 {"data":{"name":"p1"},"mark":{"type":"circle","size":80,"opacity":0.7,"color":"#74ab6f","clip":true},"encoding":{"x":{"field":"x","type":"quantitative","axis":null},"y":{"field":"y","type":"quantitative","axis":null}}},
 {"data":{"name":"c1"},"mark":{"type":"line","interpolate":"cardinal-closed","color":"#555555","opacity":0.7,"strokeWidth":1.6,"clip":true},"encoding":{"x":{"field":"x","type":"quantitative","axis":null},"y":{"field":"y","type":"quantitative","axis":null},"detail":{"field":"c"},"order":{"value":null}}},
 {"data":{"name":"ref"},"mark":{"type":"line","color":"black","strokeDash":[6,4],"strokeWidth":1.5,"clip":true},"encoding":{"x":{"field":"x","type":"quantitative","axis":null},"y":{"field":"y","type":"quantitative","axis":null}}},
 {"data":{"name":"one"},"mark":{"type":"rect","fill":"white","fillOpacity":0.8,"stroke":"#cccccc","strokeWidth":1,"cornerRadius":3},"encoding":{"x":{"datum":2.73,"type":"quantitative","axis":null},"x2":{"datum":7.1},"y":{"datum":11.68,"type":"quantitative","axis":null},"y2":{"datum":9.72}}},
 {"data":{"name":"one"},"mark":{"type":"tick","orient":"horizontal","size":15,"thickness":2,"color":"#74ab6f","opacity":0.6},"encoding":{"x":{"datum":3.42,"type":"quantitative","axis":null},"y":{"datum":10.73,"type":"quantitative","axis":null}}},
 {"data":{"name":"one"},"mark":{"type":"tick","orient":"vertical","size":13,"thickness":2,"color":"#74ab6f","opacity":0.6},"encoding":{"x":{"datum":3.42,"type":"quantitative","axis":null},"y":{"datum":10.73,"type":"quantitative","axis":null}}},
 {"data":{"name":"one"},"mark":{"type":"circle","size":70,"opacity":0.7,"color":"#74ab6f"},"encoding":{"x":{"datum":3.42,"type":"quantitative","axis":null},"y":{"datum":10.73,"type":"quantitative","axis":null}}},
 {"data":{"name":"one"},"mark":{"type":"text","align":"left","baseline":"middle","fontSize":15,"lineHeight":19,"text":["Group 2:","162 stars"]},"encoding":{"x":{"datum":4.44,"type":"quantitative","axis":null},"y":{"datum":10.73,"type":"quantitative","axis":null}}},
 {"data":{"name":"one"},"mark":{"type":"rect","fill":"white","fillOpacity":0.8,"stroke":"black","strokeWidth":1,"cornerRadius":5},"encoding":{"x":{"datum":10.3,"type":"quantitative","axis":null},"x2":{"datum":13.42},"y":{"datum":2.95,"type":"quantitative","axis":null},"y2":{"datum":0.73}}},
 {"data":{"name":"one"},"mark":{"type":"text","align":"left","baseline":"middle","fontSize":15,"fontStyle":"italic","lineHeight":19,"text":["σ","σ"]},"encoding":{"x":{"datum":10.51,"type":"quantitative","axis":null},"y":{"datum":1.85,"type":"quantitative","axis":null}}},
 {"data":{"name":"one"},"mark":{"type":"text","align":"left","baseline":"middle","fontSize":10,"fontStyle":"italic","lineHeight":19,"dx":8,"dy":4,"text":["Rg","Rb"]},"encoding":{"x":{"datum":10.51,"type":"quantitative","axis":null},"y":{"datum":1.85,"type":"quantitative","axis":null}}},
 {"data":{"name":"one"},"mark":{"type":"text","align":"left","baseline":"middle","fontSize":15,"lineHeight":19,"dx":24,"text":["= 0.97","= 1.07"]},"encoding":{"x":{"datum":10.51,"type":"quantitative","axis":null},"y":{"datum":1.85,"type":"quantitative","axis":null}}}
]},
{"width":328,"height":274,"title":"⟨[Fe/H]⟩=0.15\u00a0\u00a0\u00a0t̄⋆=7.76 Gyr","resolve":{"axis":{"x":"independent","y":"independent"}},"layer":[
 {"data":{"name":"p2"},"mark":{"type":"rule","strokeWidth":2,"opacity":0.5,"color":"#45b98c","clip":true},"encoding":{"x":{"field":"x","type":"quantitative","scale":{"domain":[2.45,13.55],"nice":false,"zero":false},"axis":{"values":[4,6,8,10,12],"labels":false,"title":null}},"y":{"field":"lo","type":"quantitative","scale":{"domain":[0,12],"nice":false,"zero":false},"axis":{"values":[0,3,6,9,12],"title":null}},"y2":{"field":"hi"}}},
 {"data":{"name":"p2"},"mark":{"type":"circle","size":80,"opacity":0.7,"color":"#45b98c","clip":true},"encoding":{"x":{"field":"x","type":"quantitative","axis":null},"y":{"field":"y","type":"quantitative","axis":null}}},
 {"data":{"name":"c2"},"mark":{"type":"line","interpolate":"cardinal-closed","color":"#555555","opacity":0.7,"strokeWidth":1.6,"clip":true},"encoding":{"x":{"field":"x","type":"quantitative","axis":null},"y":{"field":"y","type":"quantitative","axis":null},"detail":{"field":"c"},"order":{"value":null}}},
 {"data":{"name":"ref"},"mark":{"type":"line","color":"black","strokeDash":[6,4],"strokeWidth":1.5,"clip":true},"encoding":{"x":{"field":"x","type":"quantitative","axis":null},"y":{"field":"y","type":"quantitative","axis":null}}},
 {"data":{"name":"one"},"mark":{"type":"rect","fill":"white","fillOpacity":0.8,"stroke":"#cccccc","strokeWidth":1,"cornerRadius":3},"encoding":{"x":{"datum":2.73,"type":"quantitative","axis":null},"x2":{"datum":7.1},"y":{"datum":11.68,"type":"quantitative","axis":null},"y2":{"datum":9.72}}},
 {"data":{"name":"one"},"mark":{"type":"tick","orient":"horizontal","size":15,"thickness":2,"color":"#45b98c","opacity":0.6},"encoding":{"x":{"datum":3.42,"type":"quantitative","axis":null},"y":{"datum":10.73,"type":"quantitative","axis":null}}},
 {"data":{"name":"one"},"mark":{"type":"tick","orient":"vertical","size":13,"thickness":2,"color":"#45b98c","opacity":0.6},"encoding":{"x":{"datum":3.42,"type":"quantitative","axis":null},"y":{"datum":10.73,"type":"quantitative","axis":null}}},
 {"data":{"name":"one"},"mark":{"type":"circle","size":70,"opacity":0.7,"color":"#45b98c"},"encoding":{"x":{"datum":3.42,"type":"quantitative","axis":null},"y":{"datum":10.73,"type":"quantitative","axis":null}}},
 {"data":{"name":"one"},"mark":{"type":"text","align":"left","baseline":"middle","fontSize":15,"lineHeight":19,"text":["Group 1:","200 stars"]},"encoding":{"x":{"datum":4.44,"type":"quantitative","axis":null},"y":{"datum":10.73,"type":"quantitative","axis":null}}},
 {"data":{"name":"one"},"mark":{"type":"rect","fill":"white","fillOpacity":0.8,"stroke":"black","strokeWidth":1,"cornerRadius":5},"encoding":{"x":{"datum":10.3,"type":"quantitative","axis":null},"x2":{"datum":13.42},"y":{"datum":2.95,"type":"quantitative","axis":null},"y2":{"datum":0.73}}},
 {"data":{"name":"one"},"mark":{"type":"text","align":"left","baseline":"middle","fontSize":15,"fontStyle":"italic","lineHeight":19,"text":["σ","σ"]},"encoding":{"x":{"datum":10.51,"type":"quantitative","axis":null},"y":{"datum":1.85,"type":"quantitative","axis":null}}},
 {"data":{"name":"one"},"mark":{"type":"text","align":"left","baseline":"middle","fontSize":10,"fontStyle":"italic","lineHeight":19,"dx":8,"dy":4,"text":["Rg","Rb"]},"encoding":{"x":{"datum":10.51,"type":"quantitative","axis":null},"y":{"datum":1.85,"type":"quantitative","axis":null}}},
 {"data":{"name":"one"},"mark":{"type":"text","align":"left","baseline":"middle","fontSize":15,"lineHeight":19,"dx":24,"text":["= 0.91","= 1.31"]},"encoding":{"x":{"datum":10.51,"type":"quantitative","axis":null},"y":{"datum":1.85,"type":"quantitative","axis":null}}}
]},
{"width":328,"height":274,"title":"⟨[Fe/H]⟩=0.00\u00a0\u00a0\u00a0t̄⋆=8.51 Gyr","resolve":{"axis":{"x":"independent","y":"independent"}},"layer":[
 {"data":{"name":"p3"},"mark":{"type":"rule","strokeWidth":2,"opacity":0.5,"color":"#fc6d3a","clip":true},"encoding":{"x":{"field":"x","type":"quantitative","scale":{"domain":[2.45,13.55],"nice":false,"zero":false},"axis":{"values":[4,6,8,10,12],"labels":false,"title":null}},"y":{"field":"lo","type":"quantitative","scale":{"domain":[0,14],"nice":false,"zero":false},"axis":{"values":[0,3.5,7,10.5,14],"format":".1f","title":null}},"y2":{"field":"hi"}}},
 {"data":{"name":"p3"},"mark":{"type":"circle","size":80,"opacity":0.7,"color":"#fc6d3a","clip":true},"encoding":{"x":{"field":"x","type":"quantitative","axis":null},"y":{"field":"y","type":"quantitative","axis":null}}},
 {"data":{"name":"c3"},"mark":{"type":"line","interpolate":"cardinal-closed","color":"#555555","opacity":0.7,"strokeWidth":1.6,"clip":true},"encoding":{"x":{"field":"x","type":"quantitative","axis":null},"y":{"field":"y","type":"quantitative","axis":null},"detail":{"field":"c"},"order":{"value":null}}},
 {"data":{"name":"ref"},"mark":{"type":"line","color":"black","strokeDash":[6,4],"strokeWidth":1.5,"clip":true},"encoding":{"x":{"field":"x","type":"quantitative","axis":null},"y":{"field":"y","type":"quantitative","axis":null}}},
 {"data":{"name":"one"},"mark":{"type":"rect","fill":"white","fillOpacity":0.8,"stroke":"#cccccc","strokeWidth":1,"cornerRadius":3},"encoding":{"x":{"datum":2.73,"type":"quantitative","axis":null},"x2":{"datum":7.05},"y":{"datum":13.62,"type":"quantitative","axis":null},"y2":{"datum":11.34}}},
 {"data":{"name":"one"},"mark":{"type":"tick","orient":"horizontal","size":15,"thickness":2,"color":"#fc6d3a","opacity":0.6},"encoding":{"x":{"datum":3.42,"type":"quantitative","axis":null},"y":{"datum":12.52,"type":"quantitative","axis":null}}},
 {"data":{"name":"one"},"mark":{"type":"tick","orient":"vertical","size":13,"thickness":2,"color":"#fc6d3a","opacity":0.6},"encoding":{"x":{"datum":3.42,"type":"quantitative","axis":null},"y":{"datum":12.52,"type":"quantitative","axis":null}}},
 {"data":{"name":"one"},"mark":{"type":"circle","size":70,"opacity":0.7,"color":"#fc6d3a"},"encoding":{"x":{"datum":3.42,"type":"quantitative","axis":null},"y":{"datum":12.52,"type":"quantitative","axis":null}}},
 {"data":{"name":"one"},"mark":{"type":"text","align":"left","baseline":"middle","fontSize":15,"lineHeight":19,"text":["Group 6:","374 stars"]},"encoding":{"x":{"datum":4.44,"type":"quantitative","axis":null},"y":{"datum":12.52,"type":"quantitative","axis":null}}},
 {"data":{"name":"one"},"mark":{"type":"rect","fill":"white","fillOpacity":0.8,"stroke":"black","strokeWidth":1,"cornerRadius":5},"encoding":{"x":{"datum":10.3,"type":"quantitative","axis":null},"x2":{"datum":13.42},"y":{"datum":3.44,"type":"quantitative","axis":null},"y2":{"datum":0.85}}},
 {"data":{"name":"one"},"mark":{"type":"text","align":"left","baseline":"middle","fontSize":15,"fontStyle":"italic","lineHeight":19,"text":["σ","σ"]},"encoding":{"x":{"datum":10.51,"type":"quantitative","axis":null},"y":{"datum":2.16,"type":"quantitative","axis":null}}},
 {"data":{"name":"one"},"mark":{"type":"text","align":"left","baseline":"middle","fontSize":10,"fontStyle":"italic","lineHeight":19,"dx":8,"dy":4,"text":["Rg","Rb"]},"encoding":{"x":{"datum":10.51,"type":"quantitative","axis":null},"y":{"datum":2.16,"type":"quantitative","axis":null}}},
 {"data":{"name":"one"},"mark":{"type":"text","align":"left","baseline":"middle","fontSize":15,"lineHeight":19,"dx":24,"text":["= 0.97","= 1.86"]},"encoding":{"x":{"datum":10.51,"type":"quantitative","axis":null},"y":{"datum":2.16,"type":"quantitative","axis":null}}}
]},
{"width":328,"height":274,"title":"⟨[Fe/H]⟩=-0.19\u00a0\u00a0\u00a0t̄⋆=9.33 Gyr","resolve":{"axis":{"x":"independent","y":"independent"}},"layer":[
 {"data":{"name":"p4"},"mark":{"type":"rule","strokeWidth":2,"opacity":0.5,"color":"#768ece","clip":true},"encoding":{"x":{"field":"x","type":"quantitative","scale":{"domain":[2.45,13.55],"nice":false,"zero":false},"axis":{"values":[4,6,8,10,12],"title":"⟨Rg⟩ (kpc)"}},"y":{"field":"lo","type":"quantitative","scale":{"domain":[0,20],"nice":false,"zero":false},"axis":{"values":[0,5,10,15,20],"title":"⟨Rb⟩ (kpc)"}},"y2":{"field":"hi"}}},
 {"data":{"name":"p4"},"mark":{"type":"circle","size":80,"opacity":0.7,"color":"#768ece","clip":true},"encoding":{"x":{"field":"x","type":"quantitative","axis":null},"y":{"field":"y","type":"quantitative","axis":null}}},
 {"data":{"name":"c4"},"mark":{"type":"line","interpolate":"cardinal-closed","color":"#555555","opacity":0.7,"strokeWidth":1.6,"clip":true},"encoding":{"x":{"field":"x","type":"quantitative","axis":null},"y":{"field":"y","type":"quantitative","axis":null},"detail":{"field":"c"},"order":{"value":null}}},
 {"data":{"name":"ref"},"mark":{"type":"line","color":"black","strokeDash":[6,4],"strokeWidth":1.5,"clip":true},"encoding":{"x":{"field":"x","type":"quantitative","axis":null},"y":{"field":"y","type":"quantitative","axis":null}}},
 {"data":{"name":"one"},"mark":{"type":"rect","fill":"white","fillOpacity":0.8,"stroke":"#cccccc","strokeWidth":1,"cornerRadius":3},"encoding":{"x":{"datum":2.73,"type":"quantitative","axis":null},"x2":{"datum":7.08},"y":{"datum":19.46,"type":"quantitative","axis":null},"y2":{"datum":16.2}}},
 {"data":{"name":"one"},"mark":{"type":"tick","orient":"horizontal","size":15,"thickness":2,"color":"#768ece","opacity":0.6},"encoding":{"x":{"datum":3.42,"type":"quantitative","axis":null},"y":{"datum":17.88,"type":"quantitative","axis":null}}},
 {"data":{"name":"one"},"mark":{"type":"tick","orient":"vertical","size":13,"thickness":2,"color":"#768ece","opacity":0.6},"encoding":{"x":{"datum":3.42,"type":"quantitative","axis":null},"y":{"datum":17.88,"type":"quantitative","axis":null}}},
 {"data":{"name":"one"},"mark":{"type":"circle","size":70,"opacity":0.7,"color":"#768ece"},"encoding":{"x":{"datum":3.42,"type":"quantitative","axis":null},"y":{"datum":17.88,"type":"quantitative","axis":null}}},
 {"data":{"name":"one"},"mark":{"type":"text","align":"left","baseline":"middle","fontSize":15,"lineHeight":19,"text":["Group 5:","295 stars"]},"encoding":{"x":{"datum":4.44,"type":"quantitative","axis":null},"y":{"datum":17.88,"type":"quantitative","axis":null}}},
 {"data":{"name":"one"},"mark":{"type":"rect","fill":"white","fillOpacity":0.8,"stroke":"black","strokeWidth":1,"cornerRadius":5},"encoding":{"x":{"datum":10.3,"type":"quantitative","axis":null},"x2":{"datum":13.42},"y":{"datum":4.92,"type":"quantitative","axis":null},"y2":{"datum":1.22}}},
 {"data":{"name":"one"},"mark":{"type":"text","align":"left","baseline":"middle","fontSize":15,"fontStyle":"italic","lineHeight":19,"text":["σ","σ"]},"encoding":{"x":{"datum":10.51,"type":"quantitative","axis":null},"y":{"datum":3.08,"type":"quantitative","axis":null}}},
 {"data":{"name":"one"},"mark":{"type":"text","align":"left","baseline":"middle","fontSize":10,"fontStyle":"italic","lineHeight":19,"dx":8,"dy":4,"text":["Rg","Rb"]},"encoding":{"x":{"datum":10.51,"type":"quantitative","axis":null},"y":{"datum":3.08,"type":"quantitative","axis":null}}},
 {"data":{"name":"one"},"mark":{"type":"text","align":"left","baseline":"middle","fontSize":15,"lineHeight":19,"dx":24,"text":["= 1.06","= 3.18"]},"encoding":{"x":{"datum":10.51,"type":"quantitative","axis":null},"y":{"datum":3.08,"type":"quantitative","axis":null}}}
]},
{"width":328,"height":274,"title":"⟨[Fe/H]⟩=-0.40\u00a0\u00a0\u00a0t̄⋆=10.97 Gyr","resolve":{"axis":{"x":"independent","y":"independent"}},"layer":[
 {"data":{"name":"p5"},"mark":{"type":"rule","strokeWidth":2,"opacity":0.5,"color":"#a47e92","clip":true},"encoding":{"x":{"field":"x","type":"quantitative","scale":{"domain":[2.45,13.55],"nice":false,"zero":false},"axis":{"values":[4,6,8,10,12],"title":"⟨Rg⟩ (kpc)"}},"y":{"field":"lo","type":"quantitative","scale":{"domain":[0,30],"nice":false,"zero":false},"axis":{"values":[0,7.5,15,22.5,30],"format":".1f","title":null}},"y2":{"field":"hi"}}},
 {"data":{"name":"p5"},"mark":{"type":"circle","size":80,"opacity":0.7,"color":"#a47e92","clip":true},"encoding":{"x":{"field":"x","type":"quantitative","axis":null},"y":{"field":"y","type":"quantitative","axis":null}}},
 {"data":{"name":"c5"},"mark":{"type":"line","interpolate":"cardinal-closed","color":"#555555","opacity":0.7,"strokeWidth":1.6,"clip":true},"encoding":{"x":{"field":"x","type":"quantitative","axis":null},"y":{"field":"y","type":"quantitative","axis":null},"detail":{"field":"c"},"order":{"value":null}}},
 {"data":{"name":"ref"},"mark":{"type":"line","color":"black","strokeDash":[6,4],"strokeWidth":1.5,"clip":true},"encoding":{"x":{"field":"x","type":"quantitative","axis":null},"y":{"field":"y","type":"quantitative","axis":null}}},
 {"data":{"name":"one"},"mark":{"type":"rect","fill":"white","fillOpacity":0.8,"stroke":"#cccccc","strokeWidth":1,"cornerRadius":3},"encoding":{"x":{"datum":2.73,"type":"quantitative","axis":null},"x2":{"datum":6.93},"y":{"datum":29.19,"type":"quantitative","axis":null},"y2":{"datum":24.3}}},
 {"data":{"name":"one"},"mark":{"type":"tick","orient":"horizontal","size":15,"thickness":2,"color":"#a47e92","opacity":0.6},"encoding":{"x":{"datum":3.42,"type":"quantitative","axis":null},"y":{"datum":26.82,"type":"quantitative","axis":null}}},
 {"data":{"name":"one"},"mark":{"type":"tick","orient":"vertical","size":13,"thickness":2,"color":"#a47e92","opacity":0.6},"encoding":{"x":{"datum":3.42,"type":"quantitative","axis":null},"y":{"datum":26.82,"type":"quantitative","axis":null}}},
 {"data":{"name":"one"},"mark":{"type":"circle","size":70,"opacity":0.7,"color":"#a47e92"},"encoding":{"x":{"datum":3.42,"type":"quantitative","axis":null},"y":{"datum":26.82,"type":"quantitative","axis":null}}},
 {"data":{"name":"one"},"mark":{"type":"text","align":"left","baseline":"middle","fontSize":15,"lineHeight":19,"text":["Group 4:","136 stars"]},"encoding":{"x":{"datum":4.44,"type":"quantitative","axis":null},"y":{"datum":26.82,"type":"quantitative","axis":null}}},
 {"data":{"name":"one"},"mark":{"type":"rect","fill":"white","fillOpacity":0.8,"stroke":"black","strokeWidth":1,"cornerRadius":5},"encoding":{"x":{"datum":10.3,"type":"quantitative","axis":null},"x2":{"datum":13.42},"y":{"datum":7.38,"type":"quantitative","axis":null},"y2":{"datum":1.83}}},
 {"data":{"name":"one"},"mark":{"type":"text","align":"left","baseline":"middle","fontSize":15,"fontStyle":"italic","lineHeight":19,"text":["σ","σ"]},"encoding":{"x":{"datum":10.51,"type":"quantitative","axis":null},"y":{"datum":4.62,"type":"quantitative","axis":null}}},
 {"data":{"name":"one"},"mark":{"type":"text","align":"left","baseline":"middle","fontSize":10,"fontStyle":"italic","lineHeight":19,"dx":8,"dy":4,"text":["Rg","Rb"]},"encoding":{"x":{"datum":10.51,"type":"quantitative","axis":null},"y":{"datum":4.62,"type":"quantitative","axis":null}}},
 {"data":{"name":"one"},"mark":{"type":"text","align":"left","baseline":"middle","fontSize":15,"lineHeight":19,"dx":24,"text":["= 1.18","= 6.29"]},"encoding":{"x":{"datum":10.51,"type":"quantitative","axis":null},"y":{"datum":4.62,"type":"quantitative","axis":null}}}
]},
{"width":328,"height":274,"title":"⟨[Fe/H]⟩=-0.66\u00a0\u00a0\u00a0t̄⋆=8.51 Gyr","resolve":{"axis":{"x":"independent","y":"independent"}},"layer":[
 {"data":{"name":"p6"},"mark":{"type":"rule","strokeWidth":2,"opacity":0.5,"color":"#cd9459","clip":true},"encoding":{"x":{"field":"x","type":"quantitative","scale":{"domain":[2.45,13.55],"nice":false,"zero":false},"axis":{"values":[4,6,8,10,12],"title":"⟨Rg⟩ (kpc)"}},"y":{"field":"lo","type":"quantitative","scale":{"domain":[0,31],"nice":false,"zero":false},"axis":{"values":[0,7.75,15.5,23.25,31],"format":".2f","title":null}},"y2":{"field":"hi"}}},
 {"data":{"name":"p6"},"mark":{"type":"circle","size":80,"opacity":0.7,"color":"#cd9459","clip":true},"encoding":{"x":{"field":"x","type":"quantitative","axis":null},"y":{"field":"y","type":"quantitative","axis":null}}},
 {"data":{"name":"c6"},"mark":{"type":"line","interpolate":"cardinal-closed","color":"#555555","opacity":0.7,"strokeWidth":1.6,"clip":true},"encoding":{"x":{"field":"x","type":"quantitative","axis":null},"y":{"field":"y","type":"quantitative","axis":null},"detail":{"field":"c"},"order":{"value":null}}},
 {"data":{"name":"ref"},"mark":{"type":"line","color":"black","strokeDash":[6,4],"strokeWidth":1.5,"clip":true},"encoding":{"x":{"field":"x","type":"quantitative","axis":null},"y":{"field":"y","type":"quantitative","axis":null}}},
 {"data":{"name":"one"},"mark":{"type":"rect","fill":"white","fillOpacity":0.8,"stroke":"#cccccc","strokeWidth":1,"cornerRadius":3},"encoding":{"x":{"datum":2.73,"type":"quantitative","axis":null},"x2":{"datum":6.93},"y":{"datum":30.16,"type":"quantitative","axis":null},"y2":{"datum":25.11}}},
 {"data":{"name":"one"},"mark":{"type":"tick","orient":"horizontal","size":15,"thickness":2,"color":"#cd9459","opacity":0.6},"encoding":{"x":{"datum":3.42,"type":"quantitative","axis":null},"y":{"datum":27.71,"type":"quantitative","axis":null}}},
 {"data":{"name":"one"},"mark":{"type":"tick","orient":"vertical","size":13,"thickness":2,"color":"#cd9459","opacity":0.6},"encoding":{"x":{"datum":3.42,"type":"quantitative","axis":null},"y":{"datum":27.71,"type":"quantitative","axis":null}}},
 {"data":{"name":"one"},"mark":{"type":"circle","size":70,"opacity":0.7,"color":"#cd9459"},"encoding":{"x":{"datum":3.42,"type":"quantitative","axis":null},"y":{"datum":27.71,"type":"quantitative","axis":null}}},
 {"data":{"name":"one"},"mark":{"type":"text","align":"left","baseline":"middle","fontSize":15,"lineHeight":19,"text":["Group 3:","21 stars"]},"encoding":{"x":{"datum":4.44,"type":"quantitative","axis":null},"y":{"datum":27.71,"type":"quantitative","axis":null}}},
 {"data":{"name":"one"},"mark":{"type":"rect","fill":"white","fillOpacity":0.8,"stroke":"black","strokeWidth":1,"cornerRadius":5},"encoding":{"x":{"datum":10.3,"type":"quantitative","axis":null},"x2":{"datum":13.42},"y":{"datum":7.63,"type":"quantitative","axis":null},"y2":{"datum":1.89}}},
 {"data":{"name":"one"},"mark":{"type":"text","align":"left","baseline":"middle","fontSize":15,"fontStyle":"italic","lineHeight":19,"text":["σ","σ"]},"encoding":{"x":{"datum":10.51,"type":"quantitative","axis":null},"y":{"datum":4.77,"type":"quantitative","axis":null}}},
 {"data":{"name":"one"},"mark":{"type":"text","align":"left","baseline":"middle","fontSize":10,"fontStyle":"italic","lineHeight":19,"dx":8,"dy":4,"text":["Rg","Rb"]},"encoding":{"x":{"datum":10.51,"type":"quantitative","axis":null},"y":{"datum":4.77,"type":"quantitative","axis":null}}},
 {"data":{"name":"one"},"mark":{"type":"text","align":"left","baseline":"middle","fontSize":15,"lineHeight":19,"dx":24,"text":["= 1.21","= 6.41"]},"encoding":{"x":{"datum":10.51,"type":"quantitative","axis":null},"y":{"datum":4.77,"type":"quantitative","axis":null}}}
]}
]
}
